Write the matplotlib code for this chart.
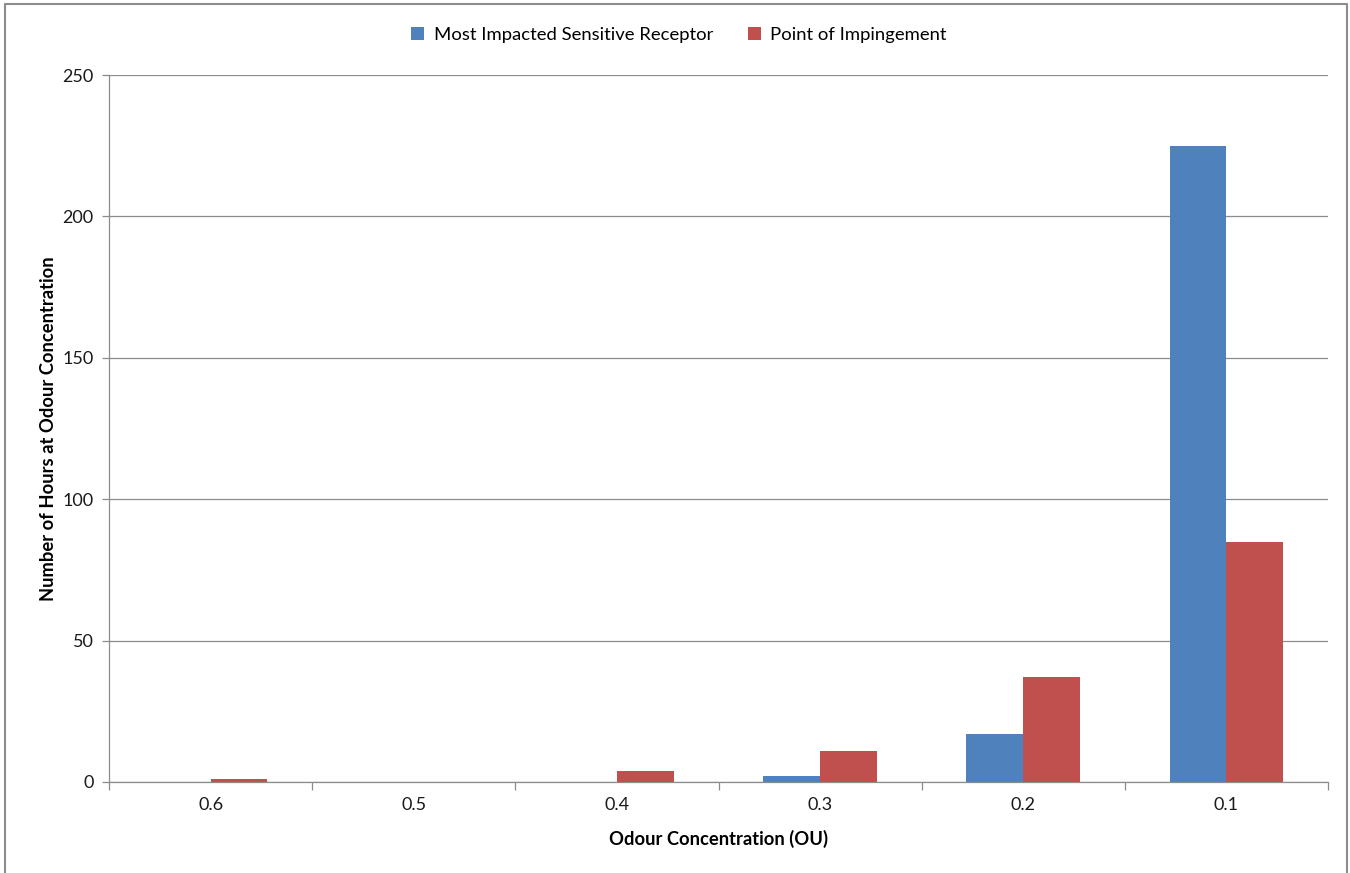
import numpy as np
import matplotlib.pyplot as plt
from matplotlib.lines import Line2D

# data
categories = ["0.6", "0.5", "0.4", "0.3", "0.2", "0.1"]
receptor = [0, 0, 0, 2, 17, 225]
impingement = [1, 0, 4, 11, 37, 85]
series_names = ["Most Impacted Sensitive Receptor", "Point of Impingement"]

blue = "#4F81BD"
red = "#C0504D"
plt.rcParams["font.family"] = ["Lato", "DejaVu Sans"]

fig = plt.figure(figsize=(13.5, 8.73), dpi=100)
ax = fig.add_axes([109 / 1350, 1 - 782 / 873, (1328 - 109) / 1350, (782 - 75) / 873])

x = np.arange(len(categories))
bw = 0.28
ax.bar(x - bw / 2, receptor, width=bw, color=blue, label=series_names[0], zorder=3)
ax.bar(x + bw / 2, impingement, width=bw, color=red, label=series_names[1], zorder=3)

ax.set_xlim(-0.5, len(categories) - 0.5)
ax.set_ylim(0, 250)
ax.set_yticks(np.arange(0, 251, 50))
ax.yaxis.grid(True, color="#8c8c8c", linewidth=0.9, zorder=0)

# category labels centred, tick marks on the category boundaries
ax.set_xticks(x)
ax.set_xticklabels(categories)
ax.set_xticks(np.arange(-0.5, len(categories)), minor=True)
ax.tick_params(axis="x", which="major", length=0, pad=11, labelsize=13, labelcolor="#1a1a1a")
ax.tick_params(axis="x", which="minor", length=6, color="#8c8c8c", width=0.9)
ax.tick_params(axis="y", length=5, color="#8c8c8c", width=0.9, pad=6, labelsize=13, labelcolor="#1a1a1a")

for s in ["top", "right"]:
    ax.spines[s].set_visible(False)
ax.spines["left"].set_color("#8c8c8c")
ax.spines["bottom"].set_color("#8c8c8c")
ax.spines["left"].set_linewidth(0.9)
ax.spines["bottom"].set_linewidth(0.9)

ax.set_xlabel("Odour Concentration (OU)", fontsize=13.2, fontweight="bold", labelpad=12)
ax.set_ylabel("Number of Hours at Odour Concentration", fontsize=13.2, fontweight="bold", labelpad=4)

fig.legend(loc="center", bbox_to_anchor=(0.503, 1 - 35 / 873), ncol=2, frameon=False,
           fontsize=13.3, handlelength=0.7, handleheight=0.7, columnspacing=1.9, handletextpad=0.5)

# outer chart border (left, top, right)
fig.add_artist(Line2D([5 / 1350, 5 / 1350, 1347 / 1350, 1347 / 1350],
                      [0, 1 - 4 / 873, 1 - 4 / 873, 0],
                      transform=fig.transFigure, color="#8c8c8c", linewidth=1.5))

fig.savefig("out.png", dpi=100)
